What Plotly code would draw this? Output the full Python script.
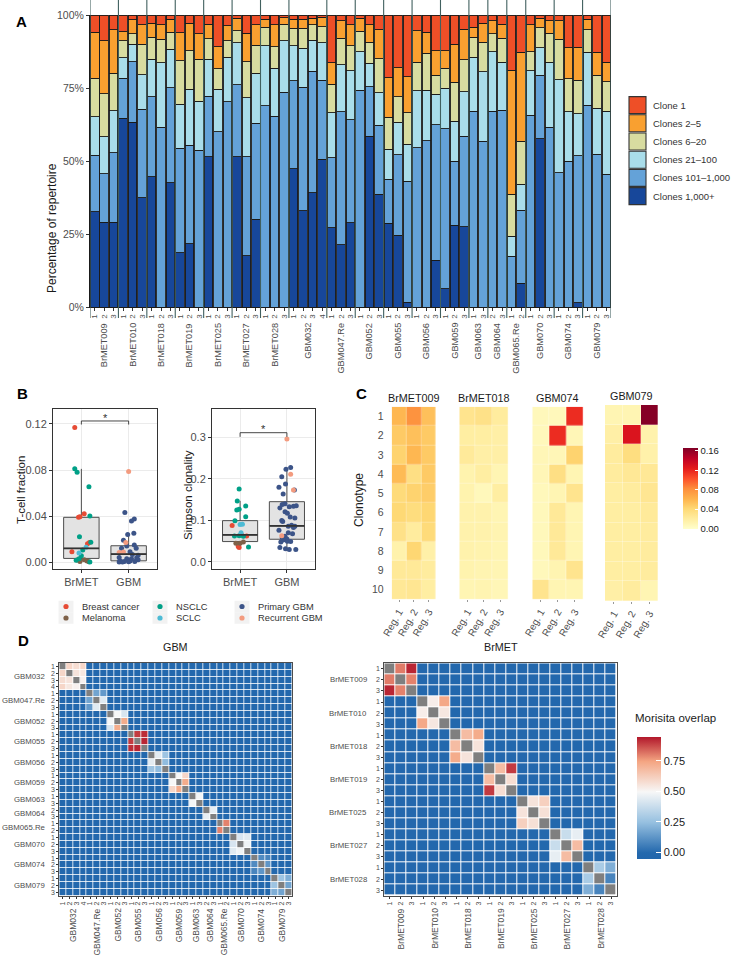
import plotly.graph_objects as go

W, H = 731, 959
def fx(p): return p / W
def fy(p): return 1 - p / H

FONT = "Liberation Sans, Arial, Helvetica, sans-serif"
TICK = "#4D4D4D"
TXT = "#1A1A1A"

# ================= Panel A data =================
a_groups = ["BrMET009", "BrMET010", "BrMET018", "BrMET019", "BrMET025", "BrMET027", "BrMET028",
            "GBM032", "GBM047.Re", "GBM052", "GBM055", "GBM056", "GBM059", "GBM063", "GBM064",
            "GBM065.Re", "GBM070", "GBM074", "GBM079"]
a_regions = [["1", "2", "3"]] * 7 + [["1", "2", "3", "4"]] + [["1", "2", "3"]] * 5 + \
            [["1", "3"], ["2", "3"], ["1", "2"]] + [["1", "2", "3"]] * 3

clones_1000_plus = [32.6, 29.0, 29.0, 64.6, 63.2, 37.5, 44.6, 0, 42.6, 18.6, 21.7, 0,
                    51.4, 0, 0, 51.4, 17.6, 30.1, 0, 0, 0, 47.4, 32.9, 39.1, 50.6,
                    27.1, 21.4, 28.8, 0, 58.5, 38.6, 28.6, 24.6, 1.7, 0, 0, 16.0,
                    6.3, 28.0, 27.4, 0, 0, 0, 0, 0, 8.2, 0, 57.7, 0, 0, 0, 1.5, 0, 0, 0]
clones_101_1000 = [19.4, 16.7, 23.8, 13.7, 20.8, 30.3, 27.4, 61.5, 32.5, 35.7, 33.7, 53.7,
                   20.7, 60.0, 70.3, 24.7, 33.8, 32.8, 68.9, 65.4, 73.5, 30.0, 42.3, 41.7, 27.1,
                   24.0, 45.5, 35.4, 74.3, 16.9, 23.7, 15.2, 27.6, 41.4, 54.5, 56.9, 46.5,
                   54.8, 21.9, 31.1, 67.1, 56.8, 67.1, 67.4, 17.4, 24.9, 65.7, 21.7, 61.5,
                   45.9, 49.9, 50.3, 69.1, 52.3, 45.5]
clones_21_100 = [13.1, 12.6, 14.4, 7.0, 5.9, 11.7, 12.8, 22.2, 13.1, 15.1, 19.1, 16.8,
                 12.7, 14.6, 15.2, 14.4, 20.3, 17.1, 20.6, 16.3, 17.6, 12.1, 13.4, 10.6, 12.8,
                 15.4, 16.1, 16.7, 13.1, 8.0, 11.1, 10.3, 11.1, 12.6, 19.6, 17.4, 10.4,
                 13.8, 13.8, 15.2, 18.4, 23.8, 20.3, 16.4, 6.9, 9.0, 15.2, 9.4, 22.3,
                 32.0, 17.0, 14.4, 18.2, 15.7, 21.6]
clones_6_20 = [13.2, 14.8, 12.8, 5.8, 3.6, 10.4, 7.5, 8.0, 5.9, 14.9, 13.3, 14.4,
               7.0, 7.0, 5.7, 4.1, 12.3, 9.7, 6.3, 7.4, 5.8, 6.0, 6.9, 5.2, 5.5,
               9.8, 9.1, 8.5, 7.1, 7.2, 11.7, 10.8, 8.7, 10.9, 9.7, 12.6, 6.5,
               6.8, 13.2, 10.9, 6.8, 10.0, 6.1, 8.2, 14.3, 14.7, 6.5, 6.9, 9.9,
               13.8, 11.3, 11.5, 7.6, 11.4, 10.0]
clones_2_5 = [15.8, 18.1, 14.9, 3.2, 4.8, 6.7, 4.8, 4.9, 4.5, 9.6, 9.3, 8.6,
              5.0, 7.5, 5.1, 4.3, 9.8, 6.9, 2.8, 7.5, 2.2, 3.1, 3.1, 2.3, 3.2,
              7.4, 6.0, 7.2, 4.4, 6.0, 9.8, 13.6, 9.9, 12.3, 10.8, 7.2, 8.4,
              6.1, 13.0, 10.5, 3.5, 6.5, 4.6, 4.8, 42.5, 30.4, 9.2, 3.2, 4.4,
              6.4, 10.6, 11.2, 3.7, 7.8, 6.7]
clone_1 = [5.9, 8.8, 5.1, 5.7, 1.7, 3.4, 2.9, 3.4, 1.4, 6.1, 2.9, 6.5,
           3.2, 10.9, 3.7, 1.1, 6.2, 3.4, 1.4, 3.4, 0.9, 1.4, 1.4, 1.1, 0.8,
           16.3, 1.9, 3.4, 1.1, 3.4, 5.1, 21.5, 18.1, 21.1, 5.4, 5.9, 12.2,
           12.2, 10.1, 4.9, 4.2, 2.9, 1.9, 3.2, 18.9, 12.8, 3.4, 1.1, 1.9,
           1.9, 11.2, 11.1, 1.4, 12.8, 16.2]

clone_names = ["Clones 1,000+", "Clones 101–1,000", "Clones 21–100", "Clones 6–20", "Clones 2–5", "Clone 1"]
clone_series = [clones_1000_plus, clones_101_1000, clones_21_100, clones_6_20, clones_2_5, clone_1]
clone_colors = ["#17479A", "#64A2D8", "#A9DDEA", "#D8DCA0", "#F9A030", "#EE4F27"]
pct_ticks = [0, 25, 50, 75, 100]
pct_labels = ["0%", "25%", "50%", "75%", "100%"]

# ================= Panel B data =================
b_cats = ["BrMET", "GBM"]
tcell_q1 = [0.0032, 0.0011]
tcell_med = [0.0119, 0.0070]
tcell_q3 = [0.0389, 0.0142]
tcell_lo = [0.0, 0.0]
tcell_hi = [0.081, 0.025]
simp_q1 = [0.049, 0.0546]
simp_med = [0.065, 0.0866]
simp_q3 = [0.0994, 0.145]
simp_lo = [0.035, 0.030]
simp_hi = [0.147, 0.227]
tcell_sig_y = 0.1226
tcell_sig_tick = 0.1195
simp_sig_y = 0.311
simp_sig_tick = 0.301

point_types = ["Breast cancer", "Melanoma", "NSCLC", "SCLC", "Primary GBM", "Recurrent GBM"]
point_colors = ["#E64B35", "#7E6148", "#00A087", "#4DBBD5", "#3C5488", "#F39B7F"]

tcell_brmet_type = ["Breast cancer", "NSCLC", "NSCLC", "NSCLC", "Breast cancer", "Breast cancer",
                    "Breast cancer", "NSCLC", "NSCLC", "Breast cancer", "Breast cancer", "NSCLC",
                    "SCLC", "NSCLC", "Breast cancer", "SCLC", "NSCLC", "NSCLC", "NSCLC", "NSCLC",
                    "Melanoma", "Melanoma", "Melanoma", "Melanoma", "Melanoma"]
tcell_brmet_jit = [-0.14, -0.14, -0.09, 0.16, 0.06, -0.06, -0.03, 0.18, -0.04, 0.13, 0.17, 0.20,
                   0.10, 0.03, -0.20, -0.05, 0.00, -0.05, -0.11, 0.18, -0.09, 0.06, 0.12, 0.16, -0.03]
tcell_brmet_val = [0.117, 0.081, 0.078, 0.0655, 0.042, 0.039, 0.0395, 0.040, 0.022, 0.016, 0.017, 0.0172,
                   0.0128, 0.0104, 0.009, 0.008, 0.0055, 0.003, 0.0015, 0.0, 0.0018, 0.002, 0.001, 0.0004, 0.0005]
tcell_gbm_type = ["Recurrent GBM"] + ["Primary GBM"] * 6 + ["Recurrent GBM"] + ["Primary GBM"] * 5 + \
                 ["Recurrent GBM", "Recurrent GBM"] + ["Primary GBM"] * 14
tcell_gbm_jit = [0.00, -0.08, 0.12, 0.06, -0.02, 0.11, -0.11, -0.06, 0.12, -0.04, -0.15, 0.16, 0.03,
                 -0.11, -0.20, 0.08, 0.20, -0.20, -0.04, 0.06, 0.17, 0.20, -0.18, -0.09, 0.03, 0.13,
                 -0.20, -0.13, 0.00]
tcell_gbm_val = [0.0786, 0.043, 0.0374, 0.0357, 0.024, 0.025, 0.019, 0.017, 0.0148, 0.0139, 0.012, 0.012,
                 0.009, 0.0087, 0.0084, 0.0065, 0.006, 0.004, 0.003, 0.003, 0.0035, 0.002, 0.001, 0.0005,
                 0.001, 0.0005, 0.0, 0.0, 0.0002]

simp_brmet_type = ["NSCLC"] * 7 + ["Breast cancer", "SCLC", "SCLC", "SCLC", "NSCLC", "NSCLC", "NSCLC",
                                   "Breast cancer", "Breast cancer", "Melanoma", "Melanoma", "Melanoma",
                                   "Breast cancer", "Breast cancer", "NSCLC"]
simp_brmet_jit = [-0.02, -0.06, 0.12, -0.07, -0.02, 0.12, -0.11, -0.17, 0.00, 0.05, 0.02, -0.12, -0.02,
                  0.07, 0.14, 0.03, 0.00, -0.09, 0.07, -0.02, -0.04, 0.18]
simp_brmet_val = [0.1756, 0.1467, 0.1347, 0.125, 0.127, 0.109, 0.0994, 0.0874, 0.090, 0.0905, 0.0705,
                  0.0625, 0.063, 0.062, 0.0625, 0.065, 0.045, 0.045, 0.048, 0.035, 0.037, 0.036]
simp_gbm_type = ["Recurrent GBM", "Primary GBM", "Primary GBM", "Recurrent GBM", "Primary GBM",
                 "Primary GBM", "Primary GBM", "Recurrent GBM"] + ["Primary GBM"] * 21 + \
                ["Recurrent GBM"] + ["Primary GBM"] * 11
simp_gbm_jit = [0.00, 0.08, -0.02, 0.08, -0.11, -0.03, -0.17, 0.14, 0.16, -0.08, -0.04, -0.10, 0.05,
                0.14, 0.20, -0.15, -0.04, 0.01, 0.07, 0.17, -0.11, -0.09, 0.10, 0.17, 0.03, 0.14,
                -0.17, 0.03, 0.12, -0.11, -0.04, -0.10, 0.00, -0.08, 0.01, -0.13, 0.08, -0.15,
                -0.03, 0.05, 0.19]
simp_gbm_val = [0.296, 0.227, 0.223, 0.211, 0.205, 0.1876, 0.1796, 0.173, 0.173, 0.1636, 0.140, 0.138,
                0.133, 0.134, 0.135, 0.130, 0.121, 0.117, 0.108, 0.106, 0.100, 0.097, 0.088, 0.086,
                0.086, 0.083, 0.076, 0.070, 0.068, 0.063, 0.062, 0.058, 0.055, 0.053, 0.050, 0.048,
                0.049, 0.035, 0.032, 0.030, 0.030]

# ================= Panel C data =================
c_samples = ["BrMET009", "BrMET018", "GBM074", "GBM079"]
c_regions = ["Reg. 1", "Reg. 2", "Reg. 3"]
c_clonotypes = [1, 2, 3, 4, 5, 6, 7, 8, 9, 10]
brmet009_freq = [[0.060, 0.080, 0.055], [0.050, 0.055, 0.050], [0.045, 0.060, 0.050], [0.058, 0.035, 0.050],
                 [0.040, 0.045, 0.048], [0.042, 0.038, 0.043], [0.033, 0.022, 0.040], [0.015, 0.043, 0.017],
                 [0.025, 0.025, 0.022], [0.026, 0.028, 0.020]]
brmet018_freq = [[0.030, 0.033, 0.022], [0.020, 0.020, 0.018], [0.024, 0.018, 0.018], [0.014, 0.020, 0.012],
                 [0.014, 0.008, 0.020], [0.015, 0.015, 0.012], [0.015, 0.015, 0.013], [0.015, 0.014, 0.012],
                 [0.014, 0.013, 0.012], [0.012, 0.013, 0.010]]
gbm074_freq = [[0.008, 0.008, 0.118], [0.008, 0.118, 0.010], [0.010, 0.010, 0.045], [0.010, 0.035, 0.012],
               [0.008, 0.012, 0.030], [0.008, 0.025, 0.012], [0.008, 0.025, 0.012], [0.008, 0.025, 0.012],
               [0.008, 0.013, 0.030], [0.030, 0.012, 0.012]]
gbm079_freq = [[0.012, 0.012, 0.165], [0.018, 0.130, 0.015], [0.022, 0.037, 0.016], [0.022, 0.026, 0.026],
               [0.020, 0.022, 0.028], [0.020, 0.020, 0.024], [0.020, 0.020, 0.022], [0.020, 0.020, 0.022],
               [0.020, 0.020, 0.022], [0.018, 0.022, 0.012]]
c_freqs = [brmet009_freq, brmet018_freq, gbm074_freq, gbm079_freq]
c_ticks = [0.00, 0.04, 0.08, 0.12, 0.16]

# ================= Panel D data =================
gbm_d_groups = ["GBM032", "GBM047.Re", "GBM052", "GBM055", "GBM056", "GBM059", "GBM063", "GBM064",
                "GBM065.Re", "GBM070", "GBM074", "GBM079"]
gbm_d_regions = [["1", "2", "3", "4"], ["1", "2", "3"], ["1", "2", "3"], ["1", "2", "3"], ["1", "2", "3"],
                 ["1", "2", "3"], ["1", "3"], ["2", "3"], ["1", "2"], ["1", "2", "3"], ["1", "2", "3"],
                 ["1", "2", "3"]]
gbm_d_pairs = [[0.60, 0.58, 0.60, 0.56, 0.55, 0.52], [0.17, 0.14, 0.44], [0.50, 0.42, 0.73],
               [0.90, 0.92, 0.93], [0.45, 0.27, 0.24], [0.50, 0.60, 0.73], [0.49], [0.46], [0.80],
               [0.42, 0.44, 0.48], [0.10, 0.08, 0.13], [0.27, 0.20, 0.17]]
brmet_d_groups = ["BrMET009", "BrMET010", "BrMET018", "BrMET019", "BrMET025", "BrMET027", "BrMET028"]
brmet_d_regions = [["1", "2", "3"]] * 7
brmet_d_pairs = [[0.81, 0.93, 0.80], [0.53, 0.74, 0.55], [0.68, 0.73, 0.56], [0.68, 0.90, 0.58],
                 [0.56, 0.62, 0.57], [0.38, 0.46, 0.68], [0.30, 0.20, 0.08]]
d_ticks = [0.00, 0.25, 0.50, 0.75]

fig = go.Figure()

# ---------------- Panel A ----------------
a_labels, a_spans = [], []
for g, regs in zip(a_groups, a_regions):
    start = len(a_labels)
    a_labels.extend(regs)
    a_spans.append((g, start, len(a_labels) - 1))
a_x = list(range(len(a_labels)))

for vals, name, col in zip(clone_series, clone_names, clone_colors):
    fig.add_trace(go.Bar(x=a_x, y=vals, name=name, width=0.9,
                         marker=dict(color=col, line=dict(color="#1A1A1A", width=0.9)),
                         xaxis="x", yaxis="y", showlegend=False, hoverinfo="skip"))

shapes, annots = [], []
sep_color = "#41605F"
bounds = [a_spans[0][1] - 0.5] + [e + 0.5 for (_, s, e) in a_spans]
for b in bounds:
    shapes.append(dict(type="line", xref="x", yref="paper", x0=b, x1=b, y0=1.0, y1=fy(318),
                       line=dict(color=sep_color, width=1.1), layer="above"))
for g, s, e in a_spans:
    annots.append(dict(text=g, xref="x", yref="paper", x=(s + e) / 2, y=fy(321), xanchor="center",
                       yanchor="top", textangle=-90, showarrow=False,
                       font=dict(size=9.2, color=TICK, family=FONT)))
annots.append(dict(text="Percentage of repertoire", xref="paper", yref="paper", x=fx(43), y=fy(161),
                   textangle=-90, showarrow=False, font=dict(size=12, color=TXT, family=FONT)))

# legend A (manual keys)
for k, (name, col) in enumerate(zip(clone_names[::-1], clone_colors[::-1])):
    y0 = 96 + k * 18.2
    shapes.append(dict(type="rect", xref="paper", yref="paper", x0=fx(629), x1=fx(646),
                       y0=fy(y0 + 0.6), y1=fy(y0 + 17.6), fillcolor=col, line=dict(color="#333", width=1.1)))
    annots.append(dict(text=name, xref="paper", yref="paper", x=fx(651), y=fy(y0 + 9.1), xanchor="left",
                       yanchor="middle", showarrow=False, font=dict(size=9.5, color="#333", family=FONT)))

# ---------------- Panel B ----------------
b_pos = [1, 2]
def add_box(q1, med, q3, lo, hi, xa, ya):
    fig.add_trace(go.Box(x=b_pos, q1=q1, median=med, q3=q3, lowerfence=lo, upperfence=hi, width=0.75,
                         fillcolor="#E3E3E3", line=dict(color="#4D4D4D", width=1), whiskerwidth=0,
                         boxpoints=False, xaxis=xa, yaxis=ya, showlegend=False, hoverinfo="skip"))
    for p, m in zip(b_pos, med):
        shapes.append(dict(type="line", xref=xa, yref=ya, x0=p - 0.375, x1=p + 0.375, y0=m, y1=m,
                           line=dict(color="#333", width=1.8)))

def add_points(pos, types, jits, vals, xa, ya):
    for t, c in zip(point_types, point_colors):
        xs = [pos + j for ty, j in zip(types, jits) if ty == t]
        ys = [v for ty, v in zip(types, vals) if ty == t]
        if xs:
            fig.add_trace(go.Scatter(x=xs, y=ys, mode="markers", marker=dict(color=c, size=5),
                                     xaxis=xa, yaxis=ya, showlegend=False, hoverinfo="skip"))

add_box(tcell_q1, tcell_med, tcell_q3, tcell_lo, tcell_hi, "x2", "y2")
add_points(1, tcell_brmet_type, tcell_brmet_jit, tcell_brmet_val, "x2", "y2")
add_points(2, tcell_gbm_type, tcell_gbm_jit, tcell_gbm_val, "x2", "y2")
add_box(simp_q1, simp_med, simp_q3, simp_lo, simp_hi, "x3", "y3")
add_points(1, simp_brmet_type, simp_brmet_jit, simp_brmet_val, "x3", "y3")
add_points(2, simp_gbm_type, simp_gbm_jit, simp_gbm_val, "x3", "y3")

for xa, ya, sy, st, star_y in [("x2", "y2", tcell_sig_y, tcell_sig_tick, 0.1248),
                                ("x3", "y3", simp_sig_y, simp_sig_tick, 0.3195)]:
    shapes.append(dict(type="path", xref=xa, yref=ya,
                       path=f"M 1,{st} L 1,{sy} L 2,{sy} L 2,{st}", line=dict(color="#333", width=0.9)))
    annots.append(dict(text="*", xref=xa, yref=ya, x=1.5, y=star_y, showarrow=False,
                       font=dict(size=11, color="#333", family=FONT)))

annots.append(dict(text="T-cell fraction", xref="paper", yref="paper", x=fx(13), y=fy(490), textangle=-90,
                   showarrow=False, font=dict(size=11.5, color=TXT, family=FONT)))
annots.append(dict(text="Simpson clonality", xref="paper", yref="paper", x=fx(180), y=fy(495), textangle=-90,
                   showarrow=False, font=dict(size=11.5, color=TXT, family=FONT)))

# legend B (manual)
leg_cols = [(66, ["Breast cancer", "Melanoma"]), (160, ["NSCLC", "SCLC"]), (242, ["Primary GBM", "Recurrent GBM"])]
cmap = dict(zip(point_types, point_colors))
for cx, names in leg_cols:
    for r, nm in enumerate(names):
        cy = 606.5 + r * 11.5
        shapes.append(dict(type="rect", xref="paper", yref="paper", x0=fx(cx - 7.5), x1=fx(cx + 7.5),
                           y0=fy(cy - 5.75), y1=fy(cy + 5.75), fillcolor="#F2F2F2", line=dict(width=0)))
        shapes.append(dict(type="circle", xref="paper", yref="paper", x0=fx(cx - 2.6), x1=fx(cx + 2.6),
                           y0=fy(cy - 2.6), y1=fy(cy + 2.6), fillcolor=cmap[nm], line=dict(width=0)))
        annots.append(dict(text=nm, xref="paper", yref="paper", x=fx(cx + 14), y=fy(cy), xanchor="left",
                           yanchor="middle", showarrow=False, font=dict(size=9.3, color="#333", family=FONT)))

# ---------------- Panel C ----------------
for i, (samp, freq) in enumerate(zip(c_samples, c_freqs)):
    n = i + 4
    fig.add_trace(go.Heatmap(z=freq, x=c_regions, y=c_clonotypes, coloraxis="coloraxis",
                             xaxis=f"x{n}", yaxis=f"y{n}", xgap=0.3, ygap=0.3, hoverinfo="skip"))
    annots.append(dict(text=samp, xref=f"x{n} domain", yref="paper", x=0.5, y=fy(398 if i < 3 else 396),
                       showarrow=False, font=dict(size=10.8, color=TXT, family=FONT)))
annots.append(dict(text="Clonotype", xref="paper", yref="paper", x=fx(359), y=fy(500), textangle=-90,
                   showarrow=False, font=dict(size=12, color=TXT, family=FONT)))

# ---------------- Panel D ----------------
def build(groups, regions, pairs):
    labels, spans = [], []
    for g, regs in zip(groups, regions):
        s = len(labels)
        labels.extend(regs)
        spans.append((g, s, len(labels) - 1))
    n = len(labels)
    z = [[0.0] * n for _ in range(n)]
    diag = [[None] * n for _ in range(n)]
    for (g, s, e), pv in zip(spans, pairs):
        m = e - s + 1
        k = 0
        for a in range(m):
            for b in range(a + 1, m):
                z[s + a][s + b] = pv[k]
                z[s + b][s + a] = pv[k]
                k += 1
        for a in range(m):
            z[s + a][s + a] = None
            diag[s + a][s + a] = 1
    return labels, spans, z, diag

d_sets = [("x8", "y8", gbm_d_groups, gbm_d_regions, gbm_d_pairs, 0.8, 47, "GBM"),
          ("x9", "y9", brmet_d_groups, brmet_d_regions, brmet_d_pairs, 1.0, 369, "BrMET")]
d_info = {}
for xa, ya, groups, regions, pairs, gap, lab_x, title in d_sets:
    labels, spans, z, diag = build(groups, regions, pairs)
    idx = list(range(len(labels)))
    d_info[xa] = (labels, idx)
    fig.add_trace(go.Heatmap(z=z, x=idx, y=idx, coloraxis="coloraxis2", xaxis=xa, yaxis=ya,
                             xgap=gap, ygap=gap, hoverinfo="skip"))
    fig.add_trace(go.Heatmap(z=diag, x=idx, y=idx, colorscale=[[0, "#7F7F7F"], [1, "#7F7F7F"]],
                             showscale=False, xaxis=xa, yaxis=ya, xgap=gap, ygap=gap, hoverinfo="skip"))
    for g, s, e in spans:
        annots.append(dict(text=g, xref=xa, yref="paper", x=(s + e) / 2, y=fy(906), xanchor="center",
                           yanchor="top", textangle=-90, showarrow=False,
                           font=dict(size=8.5, color=TICK, family=FONT)))
        annots.append(dict(text=g, xref="paper", yref=ya, x=fx(lab_x), y=(s + e) / 2, xanchor="right",
                           yanchor="middle", showarrow=False, font=dict(size=7.8, color=TICK, family=FONT)))
    annots.append(dict(text=title, xref=f"{xa} domain", yref="paper", x=0.5, y=fy(655), showarrow=False,
                       font=dict(size=10.8, color=TXT, family=FONT)))

annots.append(dict(text="Morisita overlap", xref="paper", yref="paper", x=fx(633), y=fy(718), xanchor="left",
                   yanchor="middle", showarrow=False, font=dict(size=11.5, color=TXT, family=FONT)))

# panel letters
for letter, (px, py) in zip("ABCD", [(14, 11), (15, 394), (361, 394), (16, 651)]):
    annots.append(dict(text=f"<b>{letter}</b>", xref="paper", yref="paper", x=fx(px), y=fy(py),
                       showarrow=False, font=dict(size=15, color="#000", family=FONT)))

# ---------------- Layout / axes ----------------
def ax(**kw):
    base = dict(showgrid=False, zeroline=False, automargin=False, tickfont=dict(family=FONT, color=TICK))
    base.update(kw)
    return base

layout_axes = {}
layout_axes["xaxis"] = ax(domain=[fx(90), fx(611)], range=[-0.5, len(a_x) - 0.5], tickvals=a_x,
                          ticktext=a_labels, tickangle=-90, ticks="outside", ticklen=3, tickcolor="#333",
                          tickfont=dict(size=8, color=TICK, family=FONT), showline=True,
                          linecolor="#1A1A1A", linewidth=1, anchor="y")
layout_axes["yaxis"] = ax(domain=[fy(307), fy(15)], range=[0, 100], tickvals=pct_ticks, ticktext=pct_labels,
                          ticks="outside", ticklen=3, tickcolor="#333", showline=True, linecolor="#1A1A1A",
                          linewidth=1, tickfont=dict(size=10.5, color=TICK, family=FONT), anchor="x")

for xa, ya, xd, yr, tv, tf in [("xaxis2", "yaxis2", [53, 157], [-0.006, 0.133], [0, 0.04, 0.08, 0.12], ".2f"),
                               ("xaxis3", "yaxis3", [212, 315], [-0.017, 0.368], [0, 0.1, 0.2, 0.3], ".1f")]:
    xn, yn = xa.replace("axis", ""), ya.replace("axis", "")
    layout_axes[xa] = ax(domain=[fx(xd[0]), fx(xd[1])], range=[0.4, 2.6], tickvals=b_pos, ticktext=b_cats,
                         showgrid=True, gridcolor="#EBEBEB", gridwidth=1, showline=True, mirror=True,
                         linecolor="#333", linewidth=1, ticks="outside", ticklen=3, tickcolor="#333",
                         tickfont=dict(size=11, color=TICK, family=FONT), anchor=yn)
    layout_axes[ya] = ax(domain=[fy(569), fy(409)], range=yr, tickvals=tv, tickformat=tf,
                         showgrid=True, gridcolor="#EBEBEB", gridwidth=1, showline=True, mirror=True,
                         linecolor="#333", linewidth=1, ticks="outside", ticklen=3, tickcolor="#333",
                         tickfont=dict(size=11, color=TICK, family=FONT), anchor=xn)

c_dom = [([391.7, 436], [406.7, 599.3]), ([459.3, 508.3], [406.7, 599.3]),
         ([532.3, 583.3], [406.7, 599.3]), ([605, 658.3], [405, 601])]
for i, (xd, yd) in enumerate(c_dom):
    n = i + 4
    layout_axes[f"xaxis{n}"] = ax(domain=[fx(xd[0]), fx(xd[1])], range=[-0.5, 2.5], tickangle=-60,
                                  ticks="outside", ticklen=2, tickcolor="#999",
                                  tickfont=dict(size=10, color=TICK, family=FONT), anchor=f"y{n}")
    layout_axes[f"yaxis{n}"] = ax(domain=[fy(yd[1]), fy(yd[0])], range=[10.5, 0.5], tickvals=c_clonotypes,
                                  showticklabels=(i == 0), ticks="outside" if i == 0 else "", ticklen=5,
                                  tickcolor="white", tickfont=dict(size=10.5, color=TICK, family=FONT),
                                  anchor=f"x{n}")

for xa, xd, yd in [("x8", [59.3, 292.3], [663, 895.7]), ("x9", [384.3, 616.7], [663.3, 895.7])]:
    labels, idx = d_info[xa]
    n = xa[1:]
    nn = len(idx)
    layout_axes[f"xaxis{n}"] = ax(domain=[fx(xd[0]), fx(xd[1])], range=[-0.5, nn - 0.5], tickvals=idx,
                                  ticktext=labels, tickangle=-90, ticks="outside", ticklen=2, tickcolor="#333",
                                  tickfont=dict(size=7, color=TICK, family=FONT), showline=True, mirror=True,
                                  linecolor="#4D4D4D", linewidth=1, anchor=f"y{n}")
    layout_axes[f"yaxis{n}"] = ax(domain=[fy(yd[1]), fy(yd[0])], range=[nn - 0.5, -0.5], tickvals=idx,
                                  ticktext=labels, ticks="outside", ticklen=2, tickcolor="#333",
                                  tickfont=dict(size=7, color=TICK, family=FONT), showline=True, mirror=True,
                                  linecolor="#4D4D4D", linewidth=1, anchor=f"x{n}")

ylorrd = [[0, "#FFFFCC"], [0.125, "#FFEDA0"], [0.25, "#FED976"], [0.375, "#FEB24C"], [0.5, "#FD8D3C"],
          [0.625, "#FC4E2A"], [0.75, "#E31A1C"], [0.875, "#BD0026"], [1, "#800026"]]
d_min, d_max = -0.05, 0.95
def dpos(v): return (v - d_min) / (d_max - d_min)
rdbu = [[0, "#2166AC"], [dpos(0.0), "#2368AD"], [dpos(0.25), "#96C0E0"], [dpos(0.5), "#F7F7F7"],
        [dpos(0.75), "#F4A582"], [1, "#B2182B"]]

fig.update_layout(
    width=W, height=H, margin=dict(l=0, r=0, t=0, b=0), template="none",
    paper_bgcolor="white", plot_bgcolor="white", barmode="stack", bargap=0,
    font=dict(family=FONT, color=TXT), showlegend=False,
    shapes=shapes, annotations=annots,
    coloraxis=dict(cmin=0, cmax=0.167, colorscale=ylorrd,
                   colorbar=dict(x=fx(683), xanchor="left", y=fy(488), yanchor="middle", len=80.6,
                                 lenmode="pixels", thickness=15, thicknessmode="pixels", xpad=0, ypad=0,
                                 outlinewidth=0, tickvals=c_ticks, tickformat=".2f", ticks="inside",
                                 ticklen=3, tickcolor="white", tickfont=dict(size=9.5, color=TXT, family=FONT))),
    coloraxis2=dict(cmin=d_min, cmax=d_max, colorscale=rdbu,
                    colorbar=dict(x=fx(636.7), xanchor="left", y=fy(797.5), yanchor="middle", len=121.6,
                                  lenmode="pixels", thickness=24, thicknessmode="pixels", xpad=0, ypad=0,
                                  outlinewidth=0, tickvals=d_ticks, tickformat=".2f", ticks="inside",
                                  ticklen=5, tickcolor="white", tickfont=dict(size=11, color=TXT, family=FONT))),
    **layout_axes,
)

fig.write_html("out.html", config={"displayModeBar": False, "staticPlot": True},
               post_script="document.body.style.margin='0px';document.body.style.padding='0px';")
